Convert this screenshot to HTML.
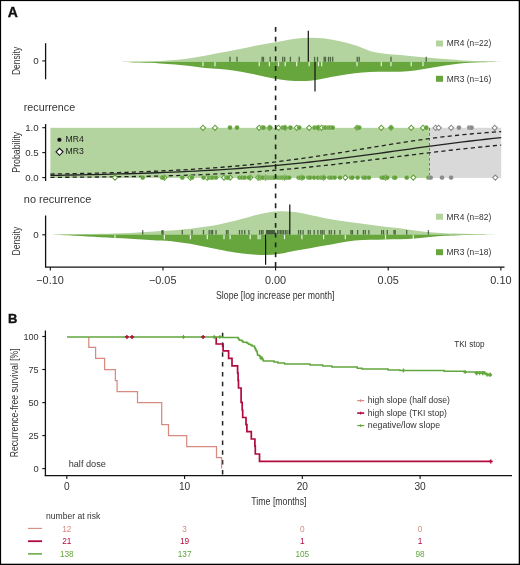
<!DOCTYPE html>
<html><head><meta charset="utf-8"><style>
html,body{margin:0;padding:0;background:#fff;}
.f{position:relative;width:520px;height:565px;overflow:hidden;background:#fff;}
svg{position:absolute;left:0;top:0;will-change:transform;}
text{font-family:"Liberation Sans", sans-serif;}
</style></head><body><div class="f">
<svg width="520" height="565" viewBox="0 0 520 565">
<rect x="0" y="0" width="520" height="565" fill="#fff"/>
<text x="7.8" y="17.2" font-size="14" fill="#111" text-anchor="start" font-weight="bold" stroke="#111" stroke-width="0.35">A</text>
<path d="M117.00,61.70 C120.83,61.65 132.83,61.53 140.00,61.40 C147.17,61.27 154.17,61.12 160.00,60.90 C165.83,60.68 170.00,60.55 175.00,60.10 C180.00,59.65 185.00,58.93 190.00,58.20 C195.00,57.47 200.00,56.62 205.00,55.70 C210.00,54.78 215.00,53.67 220.00,52.70 C225.00,51.73 230.00,50.87 235.00,49.90 C240.00,48.93 245.00,47.88 250.00,46.90 C255.00,45.92 260.00,44.90 265.00,44.00 C270.00,43.10 275.00,42.37 280.00,41.50 C285.00,40.63 290.00,39.43 295.00,38.80 C300.00,38.17 305.00,37.75 310.00,37.70 C315.00,37.65 320.00,37.90 325.00,38.50 C330.00,39.10 335.00,40.17 340.00,41.30 C345.00,42.43 350.00,43.70 355.00,45.30 C360.00,46.90 365.00,49.48 370.00,50.90 C375.00,52.32 380.00,53.13 385.00,53.80 C390.00,54.47 395.00,54.47 400.00,54.90 C405.00,55.33 410.00,55.93 415.00,56.40 C420.00,56.87 425.00,57.25 430.00,57.70 C435.00,58.15 440.00,58.68 445.00,59.10 C450.00,59.52 454.17,59.87 460.00,60.20 C465.83,60.53 473.00,60.85 480.00,61.10 C487.00,61.35 498.33,61.60 502.00,61.70 Z" fill="#b3d49e"/>
<path d="M117.00,61.70 C120.83,61.85 132.83,62.32 140.00,62.60 C147.17,62.88 154.17,63.10 160.00,63.40 C165.83,63.70 170.00,63.98 175.00,64.40 C180.00,64.82 185.00,65.32 190.00,65.90 C195.00,66.48 200.00,67.37 205.00,67.90 C210.00,68.43 215.00,68.63 220.00,69.10 C225.00,69.57 230.00,69.97 235.00,70.70 C240.00,71.43 245.00,72.50 250.00,73.50 C255.00,74.50 260.00,75.70 265.00,76.70 C270.00,77.70 275.00,78.78 280.00,79.50 C285.00,80.22 290.00,80.80 295.00,81.00 C300.00,81.20 305.00,81.17 310.00,80.70 C315.00,80.23 320.00,79.07 325.00,78.20 C330.00,77.33 335.00,76.33 340.00,75.50 C345.00,74.67 350.00,73.78 355.00,73.20 C360.00,72.62 365.00,72.25 370.00,72.00 C375.00,71.75 380.00,71.75 385.00,71.70 C390.00,71.65 395.00,71.92 400.00,71.70 C405.00,71.48 410.00,71.00 415.00,70.40 C420.00,69.80 425.00,68.92 430.00,68.10 C435.00,67.28 440.00,66.28 445.00,65.50 C450.00,64.72 454.17,63.93 460.00,63.40 C465.83,62.87 473.33,62.58 480.00,62.30 C486.67,62.02 496.67,61.80 500.00,61.70 Z" fill="#67a63d"/>
<line x1="230" y1="56.8" x2="230" y2="61.7" stroke="#1e3318" stroke-opacity="0.68" stroke-width="1.3"/>
<line x1="237" y1="56.8" x2="237" y2="61.7" stroke="#1e3318" stroke-opacity="0.68" stroke-width="1.3"/>
<line x1="262.1" y1="56.8" x2="262.1" y2="61.7" stroke="#1e3318" stroke-opacity="0.68" stroke-width="1.3"/>
<line x1="263.5" y1="56.8" x2="263.5" y2="61.7" stroke="#1e3318" stroke-opacity="0.68" stroke-width="1.3"/>
<line x1="270.2" y1="56.8" x2="270.2" y2="61.7" stroke="#1e3318" stroke-opacity="0.68" stroke-width="1.3"/>
<line x1="282.7" y1="56.8" x2="282.7" y2="61.7" stroke="#1e3318" stroke-opacity="0.68" stroke-width="1.3"/>
<line x1="284.6" y1="56.8" x2="284.6" y2="61.7" stroke="#1e3318" stroke-opacity="0.68" stroke-width="1.3"/>
<line x1="290.4" y1="56.8" x2="290.4" y2="61.7" stroke="#1e3318" stroke-opacity="0.68" stroke-width="1.3"/>
<line x1="299.2" y1="56.8" x2="299.2" y2="61.7" stroke="#1e3318" stroke-opacity="0.68" stroke-width="1.3"/>
<line x1="314.6" y1="56.8" x2="314.6" y2="61.7" stroke="#1e3318" stroke-opacity="0.68" stroke-width="1.3"/>
<line x1="317.5" y1="56.8" x2="317.5" y2="61.7" stroke="#1e3318" stroke-opacity="0.68" stroke-width="1.3"/>
<line x1="324.2" y1="56.8" x2="324.2" y2="61.7" stroke="#1e3318" stroke-opacity="0.68" stroke-width="1.3"/>
<line x1="325.5" y1="56.8" x2="325.5" y2="61.7" stroke="#1e3318" stroke-opacity="0.68" stroke-width="1.3"/>
<line x1="328.5" y1="56.8" x2="328.5" y2="61.7" stroke="#1e3318" stroke-opacity="0.68" stroke-width="1.3"/>
<line x1="330.4" y1="56.8" x2="330.4" y2="61.7" stroke="#1e3318" stroke-opacity="0.68" stroke-width="1.3"/>
<line x1="332.7" y1="56.8" x2="332.7" y2="61.7" stroke="#1e3318" stroke-opacity="0.68" stroke-width="1.3"/>
<line x1="357.3" y1="56.8" x2="357.3" y2="61.7" stroke="#1e3318" stroke-opacity="0.68" stroke-width="1.3"/>
<line x1="359.2" y1="56.8" x2="359.2" y2="61.7" stroke="#1e3318" stroke-opacity="0.68" stroke-width="1.3"/>
<line x1="391" y1="56.8" x2="391" y2="61.7" stroke="#1e3318" stroke-opacity="0.68" stroke-width="1.3"/>
<line x1="426.2" y1="56.8" x2="426.2" y2="61.7" stroke="#1e3318" stroke-opacity="0.68" stroke-width="1.3"/>
<line x1="203" y1="62.1" x2="203" y2="66.2" stroke="#fff" stroke-opacity="0.85" stroke-width="1.2"/>
<line x1="215" y1="62.1" x2="215" y2="66.2" stroke="#fff" stroke-opacity="0.85" stroke-width="1.2"/>
<line x1="259.2" y1="62.1" x2="259.2" y2="66.2" stroke="#fff" stroke-opacity="0.85" stroke-width="1.2"/>
<line x1="269.4" y1="62.1" x2="269.4" y2="66.2" stroke="#fff" stroke-opacity="0.85" stroke-width="1.2"/>
<line x1="278.5" y1="62.1" x2="278.5" y2="66.2" stroke="#fff" stroke-opacity="0.85" stroke-width="1.2"/>
<line x1="285.2" y1="62.1" x2="285.2" y2="66.2" stroke="#fff" stroke-opacity="0.85" stroke-width="1.2"/>
<line x1="296.7" y1="62.1" x2="296.7" y2="66.2" stroke="#fff" stroke-opacity="0.85" stroke-width="1.2"/>
<line x1="309.2" y1="62.1" x2="309.2" y2="66.2" stroke="#fff" stroke-opacity="0.85" stroke-width="1.2"/>
<line x1="318.5" y1="62.1" x2="318.5" y2="66.2" stroke="#fff" stroke-opacity="0.85" stroke-width="1.2"/>
<line x1="321.7" y1="62.1" x2="321.7" y2="66.2" stroke="#fff" stroke-opacity="0.85" stroke-width="1.2"/>
<line x1="357" y1="62.1" x2="357" y2="66.2" stroke="#fff" stroke-opacity="0.85" stroke-width="1.2"/>
<line x1="381.3" y1="62.1" x2="381.3" y2="66.2" stroke="#fff" stroke-opacity="0.85" stroke-width="1.2"/>
<line x1="391" y1="62.1" x2="391" y2="66.2" stroke="#fff" stroke-opacity="0.85" stroke-width="1.2"/>
<line x1="411.2" y1="62.1" x2="411.2" y2="66.2" stroke="#fff" stroke-opacity="0.85" stroke-width="1.2"/>
<line x1="423" y1="62.1" x2="423" y2="66.2" stroke="#fff" stroke-opacity="0.85" stroke-width="1.2"/>
<line x1="308.3" y1="30.8" x2="308.3" y2="61.7" stroke="#111" stroke-width="1.2"/>
<line x1="315" y1="61.7" x2="315" y2="91.6" stroke="#111" stroke-width="1.2"/>
<line x1="45.6" y1="43.2" x2="45.6" y2="79.3" stroke="#111" stroke-width="1.3"/>
<line x1="42.3" y1="60.9" x2="45.6" y2="60.9" stroke="#111" stroke-width="1.1"/>
<text x="38.7" y="64.3" font-size="9.8" fill="#333" text-anchor="end" >0</text>
<text transform="translate(19.6,75) rotate(-90)" font-size="11.4" fill="#333" text-anchor="start" textLength="28.1" lengthAdjust="spacingAndGlyphs" >Density</text>
<rect x="436" y="40.5" width="7" height="6" fill="#b3d49e"/>
<text x="446.8" y="46.4" font-size="8.8" fill="#333" text-anchor="start" textLength="44.4" lengthAdjust="spacingAndGlyphs" >MR4 (n=22)</text>
<rect x="436" y="75.8" width="7" height="6" fill="#67a63d"/>
<text x="446.8" y="81.6" font-size="8.8" fill="#333" text-anchor="start" textLength="44.4" lengthAdjust="spacingAndGlyphs" >MR3 (n=16)</text>
<text x="23.8" y="110.8" font-size="10.8" fill="#333" text-anchor="start" textLength="51.3" lengthAdjust="spacingAndGlyphs" >recurrence</text>
<rect x="50.4" y="127.8" width="379.1" height="50.10000000000001" fill="#b3d49e"/>
<rect x="429.5" y="127.8" width="71.69999999999999" height="50.10000000000001" fill="#d9d9d9"/>
<line x1="429.5" y1="127.8" x2="429.5" y2="177.9" stroke="#777" stroke-width="1" stroke-dasharray="3 2"/>
<path d="M50.40,175.40 L58.04,175.28 L65.68,175.15 L73.32,175.01 L80.96,174.86 L88.60,174.71 L96.24,174.54 L103.88,174.36 L111.53,174.17 L119.17,173.97 L126.81,173.76 L134.45,173.53 L142.09,173.28 L149.73,173.02 L157.37,172.75 L165.01,172.45 L172.65,172.14 L180.29,171.80 L187.93,171.45 L195.57,171.07 L203.21,170.67 L210.85,170.24 L218.49,169.79 L226.14,169.31 L233.78,168.81 L241.42,168.27 L249.06,167.70 L256.70,167.11 L264.34,166.48 L271.98,165.82 L279.62,165.12 L287.26,164.39 L294.90,163.63 L302.54,162.84 L310.18,162.01 L317.82,161.15 L325.46,160.26 L333.11,159.34 L340.75,158.39 L348.39,157.42 L356.03,156.42 L363.67,155.40 L371.31,154.37 L378.95,153.32 L386.59,152.26 L394.23,151.19 L401.87,150.12 L409.51,149.05 L417.15,147.98 L424.79,146.93 L432.43,145.88 L440.07,144.86 L447.72,143.86 L455.36,142.88 L463.00,141.93 L470.64,141.00 L478.28,140.11 L485.92,139.26 L493.56,138.44 L501.20,137.66" fill="none" stroke="#222" stroke-width="1.3" />
<path d="M50.40,174.08 L58.04,173.95 L65.68,173.82 L73.32,173.67 L80.96,173.52 L88.60,173.35 L96.24,173.17 L103.88,172.97 L111.53,172.76 L119.17,172.54 L126.81,172.29 L134.45,172.03 L142.09,171.75 L149.73,171.45 L157.37,171.12 L165.01,170.77 L172.65,170.40 L180.29,169.99 L187.93,169.56 L195.57,169.10 L203.21,168.60 L210.85,168.07 L218.49,167.50 L226.14,166.89 L233.78,166.24 L241.42,165.55 L249.06,164.82 L256.70,164.04 L264.34,163.21 L271.98,162.34 L279.62,161.42 L287.26,160.45 L294.90,159.44 L302.54,158.38 L310.18,157.29 L317.82,156.15 L325.46,154.98 L333.11,153.77 L340.75,152.54 L348.39,151.29 L356.03,150.03 L363.67,148.76 L371.31,147.49 L378.95,146.23 L386.59,144.98 L394.23,143.76 L401.87,142.57 L409.51,141.41 L417.15,140.30 L424.79,139.23 L432.43,138.21 L440.07,137.25 L447.72,136.34 L455.36,135.50 L463.00,134.71 L470.64,133.98 L478.28,133.31 L485.92,132.69 L493.56,132.13 L501.20,131.62" fill="none" stroke="#222" stroke-width="1.3" stroke-dasharray="4.2 3.2"/>
<path d="M50.40,177.34 L58.04,177.30 L65.68,177.26 L73.32,177.21 L80.96,177.15 L88.60,177.09 L96.24,177.02 L103.88,176.94 L111.53,176.85 L119.17,176.75 L126.81,176.64 L134.45,176.52 L142.09,176.38 L149.73,176.23 L157.37,176.06 L165.01,175.87 L172.65,175.66 L180.29,175.43 L187.93,175.18 L195.57,174.90 L203.21,174.60 L210.85,174.27 L218.49,173.92 L226.14,173.53 L233.78,173.11 L241.42,172.66 L249.06,172.17 L256.70,171.65 L264.34,171.09 L271.98,170.50 L279.62,169.87 L287.26,169.21 L294.90,168.51 L302.54,167.78 L310.18,167.01 L317.82,166.21 L325.46,165.39 L333.11,164.53 L340.75,163.65 L348.39,162.75 L356.03,161.83 L363.67,160.90 L371.31,159.95 L378.95,158.99 L386.59,158.03 L394.23,157.07 L401.87,156.11 L409.51,155.16 L417.15,154.21 L424.79,153.28 L432.43,152.35 L440.07,151.45 L447.72,150.57 L455.36,149.70 L463.00,148.86 L470.64,148.04 L478.28,147.25 L485.92,146.49 L493.56,145.75 L501.20,145.04" fill="none" stroke="#222" stroke-width="1.3" stroke-dasharray="4.2 3.2"/>
<path d="M200.4,127.8 L203,125.2 L205.6,127.8 L203,130.4 Z" fill="#fff" stroke="#62a23a" stroke-width="1.1"/>
<path d="M212.4,127.8 L215,125.2 L217.6,127.8 L215,130.4 Z" fill="#fff" stroke="#62a23a" stroke-width="1.1"/>
<path d="M256.59999999999997,127.8 L259.2,125.2 L261.8,127.8 L259.2,130.4 Z" fill="#fff" stroke="#62a23a" stroke-width="1.1"/>
<path d="M266.79999999999995,127.8 L269.4,125.2 L272.0,127.8 L269.4,130.4 Z" fill="#fff" stroke="#62a23a" stroke-width="1.1"/>
<path d="M275.9,127.8 L278.5,125.2 L281.1,127.8 L278.5,130.4 Z" fill="#fff" stroke="#62a23a" stroke-width="1.1"/>
<path d="M282.59999999999997,127.8 L285.2,125.2 L287.8,127.8 L285.2,130.4 Z" fill="#fff" stroke="#62a23a" stroke-width="1.1"/>
<path d="M294.09999999999997,127.8 L296.7,125.2 L299.3,127.8 L296.7,130.4 Z" fill="#fff" stroke="#62a23a" stroke-width="1.1"/>
<path d="M306.59999999999997,127.8 L309.2,125.2 L311.8,127.8 L309.2,130.4 Z" fill="#fff" stroke="#62a23a" stroke-width="1.1"/>
<path d="M315.9,127.8 L318.5,125.2 L321.1,127.8 L318.5,130.4 Z" fill="#fff" stroke="#62a23a" stroke-width="1.1"/>
<path d="M319.09999999999997,127.8 L321.7,125.2 L324.3,127.8 L321.7,130.4 Z" fill="#fff" stroke="#62a23a" stroke-width="1.1"/>
<path d="M354.4,127.8 L357,125.2 L359.6,127.8 L357,130.4 Z" fill="#fff" stroke="#62a23a" stroke-width="1.1"/>
<path d="M378.7,127.8 L381.3,125.2 L383.90000000000003,127.8 L381.3,130.4 Z" fill="#fff" stroke="#62a23a" stroke-width="1.1"/>
<path d="M388.4,127.8 L391,125.2 L393.6,127.8 L391,130.4 Z" fill="#fff" stroke="#62a23a" stroke-width="1.1"/>
<path d="M408.59999999999997,127.8 L411.2,125.2 L413.8,127.8 L411.2,130.4 Z" fill="#fff" stroke="#62a23a" stroke-width="1.1"/>
<path d="M420.4,127.8 L423,125.2 L425.6,127.8 L423,130.4 Z" fill="#fff" stroke="#62a23a" stroke-width="1.1"/>
<circle cx="230" cy="127.8" r="2.45" fill="#62a23a" stroke="#fff" stroke-opacity="0.35" stroke-width="0.6"/>
<circle cx="237" cy="127.8" r="2.45" fill="#62a23a" stroke="#fff" stroke-opacity="0.35" stroke-width="0.6"/>
<circle cx="262.1" cy="127.8" r="2.45" fill="#62a23a" stroke="#fff" stroke-opacity="0.35" stroke-width="0.6"/>
<circle cx="263.5" cy="127.8" r="2.45" fill="#62a23a" stroke="#fff" stroke-opacity="0.35" stroke-width="0.6"/>
<circle cx="270.2" cy="127.8" r="2.45" fill="#62a23a" stroke="#fff" stroke-opacity="0.35" stroke-width="0.6"/>
<circle cx="282.7" cy="127.8" r="2.45" fill="#62a23a" stroke="#fff" stroke-opacity="0.35" stroke-width="0.6"/>
<circle cx="284.6" cy="127.8" r="2.45" fill="#62a23a" stroke="#fff" stroke-opacity="0.35" stroke-width="0.6"/>
<circle cx="290.4" cy="127.8" r="2.45" fill="#62a23a" stroke="#fff" stroke-opacity="0.35" stroke-width="0.6"/>
<circle cx="299.2" cy="127.8" r="2.45" fill="#62a23a" stroke="#fff" stroke-opacity="0.35" stroke-width="0.6"/>
<circle cx="314.6" cy="127.8" r="2.45" fill="#62a23a" stroke="#fff" stroke-opacity="0.35" stroke-width="0.6"/>
<circle cx="317.5" cy="127.8" r="2.45" fill="#62a23a" stroke="#fff" stroke-opacity="0.35" stroke-width="0.6"/>
<circle cx="324.2" cy="127.8" r="2.45" fill="#62a23a" stroke="#fff" stroke-opacity="0.35" stroke-width="0.6"/>
<circle cx="325.5" cy="127.8" r="2.45" fill="#62a23a" stroke="#fff" stroke-opacity="0.35" stroke-width="0.6"/>
<circle cx="328.5" cy="127.8" r="2.45" fill="#62a23a" stroke="#fff" stroke-opacity="0.35" stroke-width="0.6"/>
<circle cx="330.4" cy="127.8" r="2.45" fill="#62a23a" stroke="#fff" stroke-opacity="0.35" stroke-width="0.6"/>
<circle cx="332.7" cy="127.8" r="2.45" fill="#62a23a" stroke="#fff" stroke-opacity="0.35" stroke-width="0.6"/>
<circle cx="357.3" cy="127.8" r="2.45" fill="#62a23a" stroke="#fff" stroke-opacity="0.35" stroke-width="0.6"/>
<circle cx="359.2" cy="127.8" r="2.45" fill="#62a23a" stroke="#fff" stroke-opacity="0.35" stroke-width="0.6"/>
<circle cx="391" cy="127.8" r="2.45" fill="#62a23a" stroke="#fff" stroke-opacity="0.35" stroke-width="0.6"/>
<circle cx="426.2" cy="127.8" r="2.45" fill="#62a23a" stroke="#fff" stroke-opacity="0.35" stroke-width="0.6"/>
<path d="M433.0,127.8 L435.6,125.2 L438.20000000000005,127.8 L435.6,130.4 Z" fill="#fff" stroke="#8a8a8a" stroke-width="1.1"/>
<path d="M436.09999999999997,127.8 L438.7,125.2 L441.3,127.8 L438.7,130.4 Z" fill="#fff" stroke="#8a8a8a" stroke-width="1.1"/>
<path d="M448.5,127.8 L451.1,125.2 L453.70000000000005,127.8 L451.1,130.4 Z" fill="#fff" stroke="#8a8a8a" stroke-width="1.1"/>
<path d="M492.09999999999997,127.8 L494.7,125.2 L497.3,127.8 L494.7,130.4 Z" fill="#fff" stroke="#8a8a8a" stroke-width="1.1"/>
<circle cx="458.9" cy="127.8" r="2.45" fill="#8a8a8a" stroke="#fff" stroke-opacity="0.35" stroke-width="0.6"/>
<circle cx="469.3" cy="127.8" r="2.45" fill="#8a8a8a" stroke="#fff" stroke-opacity="0.35" stroke-width="0.6"/>
<circle cx="471.6" cy="127.8" r="2.45" fill="#8a8a8a" stroke="#fff" stroke-opacity="0.35" stroke-width="0.6"/>
<path d="M112.4,177.6 L115,175.0 L117.6,177.6 L115,180.2 Z" fill="#fff" stroke="#62a23a" stroke-width="1.1"/>
<path d="M161.8,177.6 L164.4,175.0 L167.0,177.6 L164.4,180.2 Z" fill="#fff" stroke="#62a23a" stroke-width="1.1"/>
<path d="M187.8,177.6 L190.4,175.0 L193.0,177.6 L190.4,180.2 Z" fill="#fff" stroke="#62a23a" stroke-width="1.1"/>
<path d="M204.70000000000002,177.6 L207.3,175.0 L209.9,177.6 L207.3,180.2 Z" fill="#fff" stroke="#62a23a" stroke-width="1.1"/>
<path d="M221.4,177.6 L224,175.0 L226.6,177.6 L224,180.2 Z" fill="#fff" stroke="#62a23a" stroke-width="1.1"/>
<path d="M227.5,177.6 L230.1,175.0 L232.7,177.6 L230.1,180.2 Z" fill="#fff" stroke="#62a23a" stroke-width="1.1"/>
<path d="M247.6,177.6 L250.2,175.0 L252.79999999999998,177.6 L250.2,180.2 Z" fill="#fff" stroke="#62a23a" stroke-width="1.1"/>
<path d="M255.50000000000003,177.6 L258.1,175.0 L260.70000000000005,177.6 L258.1,180.2 Z" fill="#fff" stroke="#62a23a" stroke-width="1.1"/>
<path d="M257.5,177.6 L260.1,175.0 L262.70000000000005,177.6 L260.1,180.2 Z" fill="#fff" stroke="#62a23a" stroke-width="1.1"/>
<path d="M263.0,177.6 L265.6,175.0 L268.20000000000005,177.6 L265.6,180.2 Z" fill="#fff" stroke="#62a23a" stroke-width="1.1"/>
<path d="M281.9,177.6 L284.5,175.0 L287.1,177.6 L284.5,180.2 Z" fill="#fff" stroke="#62a23a" stroke-width="1.1"/>
<path d="M299.29999999999995,177.6 L301.9,175.0 L304.5,177.6 L301.9,180.2 Z" fill="#fff" stroke="#62a23a" stroke-width="1.1"/>
<path d="M321.0,177.6 L323.6,175.0 L326.20000000000005,177.6 L323.6,180.2 Z" fill="#fff" stroke="#62a23a" stroke-width="1.1"/>
<path d="M342.7,177.6 L345.3,175.0 L347.90000000000003,177.6 L345.3,180.2 Z" fill="#fff" stroke="#62a23a" stroke-width="1.1"/>
<path d="M382.9,177.6 L385.5,175.0 L388.1,177.6 L385.5,180.2 Z" fill="#fff" stroke="#62a23a" stroke-width="1.1"/>
<path d="M410.7,177.6 L413.3,175.0 L415.90000000000003,177.6 L413.3,180.2 Z" fill="#fff" stroke="#62a23a" stroke-width="1.1"/>
<circle cx="142.7" cy="177.6" r="2.45" fill="#62a23a" stroke="#fff" stroke-opacity="0.35" stroke-width="0.6"/>
<circle cx="162" cy="177.6" r="2.45" fill="#62a23a" stroke="#fff" stroke-opacity="0.35" stroke-width="0.6"/>
<circle cx="163" cy="177.6" r="2.45" fill="#62a23a" stroke="#fff" stroke-opacity="0.35" stroke-width="0.6"/>
<circle cx="182.3" cy="177.6" r="2.45" fill="#62a23a" stroke="#fff" stroke-opacity="0.35" stroke-width="0.6"/>
<circle cx="192" cy="177.6" r="2.45" fill="#62a23a" stroke="#fff" stroke-opacity="0.35" stroke-width="0.6"/>
<circle cx="203.5" cy="177.6" r="2.45" fill="#62a23a" stroke="#fff" stroke-opacity="0.35" stroke-width="0.6"/>
<circle cx="209.2" cy="177.6" r="2.45" fill="#62a23a" stroke="#fff" stroke-opacity="0.35" stroke-width="0.6"/>
<circle cx="211.2" cy="177.6" r="2.45" fill="#62a23a" stroke="#fff" stroke-opacity="0.35" stroke-width="0.6"/>
<circle cx="212.6" cy="177.6" r="2.45" fill="#62a23a" stroke="#fff" stroke-opacity="0.35" stroke-width="0.6"/>
<circle cx="216" cy="177.6" r="2.45" fill="#62a23a" stroke="#fff" stroke-opacity="0.35" stroke-width="0.6"/>
<circle cx="226.5" cy="177.6" r="2.45" fill="#62a23a" stroke="#fff" stroke-opacity="0.35" stroke-width="0.6"/>
<circle cx="228" cy="177.6" r="2.45" fill="#62a23a" stroke="#fff" stroke-opacity="0.35" stroke-width="0.6"/>
<circle cx="239.5" cy="177.6" r="2.45" fill="#62a23a" stroke="#fff" stroke-opacity="0.35" stroke-width="0.6"/>
<circle cx="242" cy="177.6" r="2.45" fill="#62a23a" stroke="#fff" stroke-opacity="0.35" stroke-width="0.6"/>
<circle cx="244.7" cy="177.6" r="2.45" fill="#62a23a" stroke="#fff" stroke-opacity="0.35" stroke-width="0.6"/>
<circle cx="248.9" cy="177.6" r="2.45" fill="#62a23a" stroke="#fff" stroke-opacity="0.35" stroke-width="0.6"/>
<circle cx="259.6" cy="177.6" r="2.45" fill="#62a23a" stroke="#fff" stroke-opacity="0.35" stroke-width="0.6"/>
<circle cx="261.5" cy="177.6" r="2.45" fill="#62a23a" stroke="#fff" stroke-opacity="0.35" stroke-width="0.6"/>
<circle cx="263" cy="177.6" r="2.45" fill="#62a23a" stroke="#fff" stroke-opacity="0.35" stroke-width="0.6"/>
<circle cx="266.5" cy="177.6" r="2.45" fill="#62a23a" stroke="#fff" stroke-opacity="0.35" stroke-width="0.6"/>
<circle cx="267.5" cy="177.6" r="2.45" fill="#62a23a" stroke="#fff" stroke-opacity="0.35" stroke-width="0.6"/>
<circle cx="268.5" cy="177.6" r="2.45" fill="#62a23a" stroke="#fff" stroke-opacity="0.35" stroke-width="0.6"/>
<circle cx="269.5" cy="177.6" r="2.45" fill="#62a23a" stroke="#fff" stroke-opacity="0.35" stroke-width="0.6"/>
<circle cx="270.5" cy="177.6" r="2.45" fill="#62a23a" stroke="#fff" stroke-opacity="0.35" stroke-width="0.6"/>
<circle cx="271.5" cy="177.6" r="2.45" fill="#62a23a" stroke="#fff" stroke-opacity="0.35" stroke-width="0.6"/>
<circle cx="272.5" cy="177.6" r="2.45" fill="#62a23a" stroke="#fff" stroke-opacity="0.35" stroke-width="0.6"/>
<circle cx="273.5" cy="177.6" r="2.45" fill="#62a23a" stroke="#fff" stroke-opacity="0.35" stroke-width="0.6"/>
<circle cx="274.6" cy="177.6" r="2.45" fill="#62a23a" stroke="#fff" stroke-opacity="0.35" stroke-width="0.6"/>
<circle cx="277.5" cy="177.6" r="2.45" fill="#62a23a" stroke="#fff" stroke-opacity="0.35" stroke-width="0.6"/>
<circle cx="279" cy="177.6" r="2.45" fill="#62a23a" stroke="#fff" stroke-opacity="0.35" stroke-width="0.6"/>
<circle cx="280.6" cy="177.6" r="2.45" fill="#62a23a" stroke="#fff" stroke-opacity="0.35" stroke-width="0.6"/>
<circle cx="282" cy="177.6" r="2.45" fill="#62a23a" stroke="#fff" stroke-opacity="0.35" stroke-width="0.6"/>
<circle cx="283.5" cy="177.6" r="2.45" fill="#62a23a" stroke="#fff" stroke-opacity="0.35" stroke-width="0.6"/>
<circle cx="285.4" cy="177.6" r="2.45" fill="#62a23a" stroke="#fff" stroke-opacity="0.35" stroke-width="0.6"/>
<circle cx="287" cy="177.6" r="2.45" fill="#62a23a" stroke="#fff" stroke-opacity="0.35" stroke-width="0.6"/>
<circle cx="289.2" cy="177.6" r="2.45" fill="#62a23a" stroke="#fff" stroke-opacity="0.35" stroke-width="0.6"/>
<circle cx="298.6" cy="177.6" r="2.45" fill="#62a23a" stroke="#fff" stroke-opacity="0.35" stroke-width="0.6"/>
<circle cx="300.6" cy="177.6" r="2.45" fill="#62a23a" stroke="#fff" stroke-opacity="0.35" stroke-width="0.6"/>
<circle cx="303.1" cy="177.6" r="2.45" fill="#62a23a" stroke="#fff" stroke-opacity="0.35" stroke-width="0.6"/>
<circle cx="308.3" cy="177.6" r="2.45" fill="#62a23a" stroke="#fff" stroke-opacity="0.35" stroke-width="0.6"/>
<circle cx="310.2" cy="177.6" r="2.45" fill="#62a23a" stroke="#fff" stroke-opacity="0.35" stroke-width="0.6"/>
<circle cx="314.2" cy="177.6" r="2.45" fill="#62a23a" stroke="#fff" stroke-opacity="0.35" stroke-width="0.6"/>
<circle cx="317.9" cy="177.6" r="2.45" fill="#62a23a" stroke="#fff" stroke-opacity="0.35" stroke-width="0.6"/>
<circle cx="320.8" cy="177.6" r="2.45" fill="#62a23a" stroke="#fff" stroke-opacity="0.35" stroke-width="0.6"/>
<circle cx="322.3" cy="177.6" r="2.45" fill="#62a23a" stroke="#fff" stroke-opacity="0.35" stroke-width="0.6"/>
<circle cx="324.1" cy="177.6" r="2.45" fill="#62a23a" stroke="#fff" stroke-opacity="0.35" stroke-width="0.6"/>
<circle cx="329.3" cy="177.6" r="2.45" fill="#62a23a" stroke="#fff" stroke-opacity="0.35" stroke-width="0.6"/>
<circle cx="331.3" cy="177.6" r="2.45" fill="#62a23a" stroke="#fff" stroke-opacity="0.35" stroke-width="0.6"/>
<circle cx="334.6" cy="177.6" r="2.45" fill="#62a23a" stroke="#fff" stroke-opacity="0.35" stroke-width="0.6"/>
<circle cx="340" cy="177.6" r="2.45" fill="#62a23a" stroke="#fff" stroke-opacity="0.35" stroke-width="0.6"/>
<circle cx="351" cy="177.6" r="2.45" fill="#62a23a" stroke="#fff" stroke-opacity="0.35" stroke-width="0.6"/>
<circle cx="352.4" cy="177.6" r="2.45" fill="#62a23a" stroke="#fff" stroke-opacity="0.35" stroke-width="0.6"/>
<circle cx="357.6" cy="177.6" r="2.45" fill="#62a23a" stroke="#fff" stroke-opacity="0.35" stroke-width="0.6"/>
<circle cx="363.4" cy="177.6" r="2.45" fill="#62a23a" stroke="#fff" stroke-opacity="0.35" stroke-width="0.6"/>
<circle cx="365.3" cy="177.6" r="2.45" fill="#62a23a" stroke="#fff" stroke-opacity="0.35" stroke-width="0.6"/>
<circle cx="368.9" cy="177.6" r="2.45" fill="#62a23a" stroke="#fff" stroke-opacity="0.35" stroke-width="0.6"/>
<circle cx="381.7" cy="177.6" r="2.45" fill="#62a23a" stroke="#fff" stroke-opacity="0.35" stroke-width="0.6"/>
<circle cx="383.5" cy="177.6" r="2.45" fill="#62a23a" stroke="#fff" stroke-opacity="0.35" stroke-width="0.6"/>
<circle cx="387.3" cy="177.6" r="2.45" fill="#62a23a" stroke="#fff" stroke-opacity="0.35" stroke-width="0.6"/>
<circle cx="394" cy="177.6" r="2.45" fill="#62a23a" stroke="#fff" stroke-opacity="0.35" stroke-width="0.6"/>
<circle cx="395.2" cy="177.6" r="2.45" fill="#62a23a" stroke="#fff" stroke-opacity="0.35" stroke-width="0.6"/>
<circle cx="406.7" cy="177.6" r="2.45" fill="#62a23a" stroke="#fff" stroke-opacity="0.35" stroke-width="0.6"/>
<circle cx="428.4" cy="177.6" r="2.45" fill="#62a23a" stroke="#fff" stroke-opacity="0.35" stroke-width="0.6"/>
<path d="M492.7,177.6 L495.3,175.0 L497.90000000000003,177.6 L495.3,180.2 Z" fill="#fff" stroke="#8a8a8a" stroke-width="1.1"/>
<circle cx="430.7" cy="177.6" r="2.45" fill="#8a8a8a" stroke="#fff" stroke-opacity="0.35" stroke-width="0.6"/>
<circle cx="442" cy="177.6" r="2.45" fill="#8a8a8a" stroke="#fff" stroke-opacity="0.35" stroke-width="0.6"/>
<circle cx="451.1" cy="177.6" r="2.45" fill="#8a8a8a" stroke="#fff" stroke-opacity="0.35" stroke-width="0.6"/>
<circle cx="59.4" cy="139.8" r="2.3" fill="#111" stroke="#fff" stroke-opacity="0.4" stroke-width="0.7"/>
<text x="65.5" y="142.3" font-size="9.0" fill="#222" text-anchor="start" textLength="18.3" lengthAdjust="spacingAndGlyphs" >MR4</text>
<path d="M56.0,151.8 L59.5,148.3 L63.0,151.8 L59.5,155.3 Z" fill="#fff" stroke="#111" stroke-width="1.1"/>
<text x="65.5" y="154.3" font-size="9.0" fill="#222" text-anchor="start" textLength="18.3" lengthAdjust="spacingAndGlyphs" >MR3</text>
<line x1="45.6" y1="124.1" x2="45.6" y2="181" stroke="#111" stroke-width="1.3"/>
<line x1="42.3" y1="127.7" x2="45.6" y2="127.7" stroke="#111" stroke-width="1.1"/>
<text x="38.6" y="131.2" font-size="9.7" fill="#333" text-anchor="end" >1.0</text>
<line x1="42.3" y1="152.6" x2="45.6" y2="152.6" stroke="#111" stroke-width="1.1"/>
<text x="38.6" y="156.1" font-size="9.7" fill="#333" text-anchor="end" >0.5</text>
<line x1="42.3" y1="177.6" x2="45.6" y2="177.6" stroke="#111" stroke-width="1.1"/>
<text x="38.6" y="181.1" font-size="9.7" fill="#333" text-anchor="end" >0.0</text>
<text transform="translate(19.6,172.7) rotate(-90)" font-size="11.4" fill="#333" text-anchor="start" textLength="40.9" lengthAdjust="spacingAndGlyphs" >Probability</text>
<text x="23.8" y="202.6" font-size="10.8" fill="#333" text-anchor="start" textLength="67.5" lengthAdjust="spacingAndGlyphs" >no recurrence</text>
<path d="M50.00,234.50 C54.17,234.45 66.67,234.32 75.00,234.20 C83.33,234.08 90.83,234.00 100.00,233.80 C109.17,233.60 120.00,233.47 130.00,233.00 C140.00,232.53 152.50,231.47 160.00,231.00 C167.50,230.53 170.00,230.57 175.00,230.20 C180.00,229.83 185.00,229.37 190.00,228.80 C195.00,228.23 200.00,227.57 205.00,226.80 C210.00,226.03 215.00,225.20 220.00,224.20 C225.00,223.20 230.00,222.05 235.00,220.80 C240.00,219.55 245.00,218.02 250.00,216.70 C255.00,215.38 260.00,213.82 265.00,212.90 C270.00,211.98 275.00,211.33 280.00,211.20 C285.00,211.07 290.00,211.47 295.00,212.10 C300.00,212.73 305.00,213.98 310.00,215.00 C315.00,216.02 320.00,217.23 325.00,218.20 C330.00,219.17 335.00,220.03 340.00,220.80 C345.00,221.57 350.00,222.13 355.00,222.80 C360.00,223.47 365.00,224.13 370.00,224.80 C375.00,225.47 380.00,226.22 385.00,226.80 C390.00,227.38 395.00,227.67 400.00,228.30 C405.00,228.93 410.00,229.93 415.00,230.60 C420.00,231.27 425.00,231.85 430.00,232.30 C435.00,232.75 440.00,233.07 445.00,233.30 C450.00,233.53 454.50,233.57 460.00,233.70 C465.50,233.82 471.83,233.92 478.00,234.05 C484.17,234.18 493.83,234.43 497.00,234.50 Z" fill="#b3d49e"/>
<path d="M50.00,234.50 C54.17,234.72 66.67,235.35 75.00,235.80 C83.33,236.25 90.83,236.72 100.00,237.20 C109.17,237.68 120.00,238.13 130.00,238.70 C140.00,239.27 152.50,240.08 160.00,240.60 C167.50,241.12 170.00,241.27 175.00,241.80 C180.00,242.33 185.00,242.98 190.00,243.80 C195.00,244.62 200.00,245.70 205.00,246.70 C210.00,247.70 215.00,248.83 220.00,249.80 C225.00,250.77 230.00,251.77 235.00,252.50 C240.00,253.23 245.00,253.77 250.00,254.20 C255.00,254.63 260.00,255.17 265.00,255.10 C270.00,255.03 275.00,254.53 280.00,253.80 C285.00,253.07 290.00,251.63 295.00,250.70 C300.00,249.77 305.00,249.05 310.00,248.20 C315.00,247.35 320.00,246.50 325.00,245.60 C330.00,244.70 335.00,243.63 340.00,242.80 C345.00,241.97 350.00,241.10 355.00,240.60 C360.00,240.10 365.00,240.00 370.00,239.80 C375.00,239.60 380.00,239.50 385.00,239.40 C390.00,239.30 395.00,239.33 400.00,239.20 C405.00,239.07 410.00,238.95 415.00,238.60 C420.00,238.25 425.00,237.57 430.00,237.10 C435.00,236.63 440.00,236.12 445.00,235.80 C450.00,235.48 452.50,235.42 460.00,235.20 C467.50,234.98 485.00,234.62 490.00,234.50 Z" fill="#67a63d"/>
<line x1="142.7" y1="230" x2="142.7" y2="234.5" stroke="#1e3318" stroke-opacity="0.68" stroke-width="1.3"/>
<line x1="162" y1="230" x2="162" y2="234.5" stroke="#1e3318" stroke-opacity="0.68" stroke-width="1.3"/>
<line x1="163" y1="230" x2="163" y2="234.5" stroke="#1e3318" stroke-opacity="0.68" stroke-width="1.3"/>
<line x1="182.3" y1="230" x2="182.3" y2="234.5" stroke="#1e3318" stroke-opacity="0.68" stroke-width="1.3"/>
<line x1="192" y1="230" x2="192" y2="234.5" stroke="#1e3318" stroke-opacity="0.68" stroke-width="1.3"/>
<line x1="203.5" y1="230" x2="203.5" y2="234.5" stroke="#1e3318" stroke-opacity="0.68" stroke-width="1.3"/>
<line x1="209.2" y1="230" x2="209.2" y2="234.5" stroke="#1e3318" stroke-opacity="0.68" stroke-width="1.3"/>
<line x1="211.2" y1="230" x2="211.2" y2="234.5" stroke="#1e3318" stroke-opacity="0.68" stroke-width="1.3"/>
<line x1="212.6" y1="230" x2="212.6" y2="234.5" stroke="#1e3318" stroke-opacity="0.68" stroke-width="1.3"/>
<line x1="216" y1="230" x2="216" y2="234.5" stroke="#1e3318" stroke-opacity="0.68" stroke-width="1.3"/>
<line x1="226.5" y1="230" x2="226.5" y2="234.5" stroke="#1e3318" stroke-opacity="0.68" stroke-width="1.3"/>
<line x1="228" y1="230" x2="228" y2="234.5" stroke="#1e3318" stroke-opacity="0.68" stroke-width="1.3"/>
<line x1="239.5" y1="230" x2="239.5" y2="234.5" stroke="#1e3318" stroke-opacity="0.68" stroke-width="1.3"/>
<line x1="242" y1="230" x2="242" y2="234.5" stroke="#1e3318" stroke-opacity="0.68" stroke-width="1.3"/>
<line x1="244.7" y1="230" x2="244.7" y2="234.5" stroke="#1e3318" stroke-opacity="0.68" stroke-width="1.3"/>
<line x1="248.9" y1="230" x2="248.9" y2="234.5" stroke="#1e3318" stroke-opacity="0.68" stroke-width="1.3"/>
<line x1="259.6" y1="230" x2="259.6" y2="234.5" stroke="#1e3318" stroke-opacity="0.68" stroke-width="1.3"/>
<line x1="261.5" y1="230" x2="261.5" y2="234.5" stroke="#1e3318" stroke-opacity="0.68" stroke-width="1.3"/>
<line x1="263" y1="230" x2="263" y2="234.5" stroke="#1e3318" stroke-opacity="0.68" stroke-width="1.3"/>
<line x1="266.5" y1="230" x2="266.5" y2="234.5" stroke="#1e3318" stroke-opacity="0.68" stroke-width="1.3"/>
<line x1="267.5" y1="230" x2="267.5" y2="234.5" stroke="#1e3318" stroke-opacity="0.68" stroke-width="1.3"/>
<line x1="268.5" y1="230" x2="268.5" y2="234.5" stroke="#1e3318" stroke-opacity="0.68" stroke-width="1.3"/>
<line x1="269.5" y1="230" x2="269.5" y2="234.5" stroke="#1e3318" stroke-opacity="0.68" stroke-width="1.3"/>
<line x1="270.5" y1="230" x2="270.5" y2="234.5" stroke="#1e3318" stroke-opacity="0.68" stroke-width="1.3"/>
<line x1="271.5" y1="230" x2="271.5" y2="234.5" stroke="#1e3318" stroke-opacity="0.68" stroke-width="1.3"/>
<line x1="272.5" y1="230" x2="272.5" y2="234.5" stroke="#1e3318" stroke-opacity="0.68" stroke-width="1.3"/>
<line x1="273.5" y1="230" x2="273.5" y2="234.5" stroke="#1e3318" stroke-opacity="0.68" stroke-width="1.3"/>
<line x1="274.6" y1="230" x2="274.6" y2="234.5" stroke="#1e3318" stroke-opacity="0.68" stroke-width="1.3"/>
<line x1="277.5" y1="230" x2="277.5" y2="234.5" stroke="#1e3318" stroke-opacity="0.68" stroke-width="1.3"/>
<line x1="279" y1="230" x2="279" y2="234.5" stroke="#1e3318" stroke-opacity="0.68" stroke-width="1.3"/>
<line x1="280.6" y1="230" x2="280.6" y2="234.5" stroke="#1e3318" stroke-opacity="0.68" stroke-width="1.3"/>
<line x1="282" y1="230" x2="282" y2="234.5" stroke="#1e3318" stroke-opacity="0.68" stroke-width="1.3"/>
<line x1="283.5" y1="230" x2="283.5" y2="234.5" stroke="#1e3318" stroke-opacity="0.68" stroke-width="1.3"/>
<line x1="285.4" y1="230" x2="285.4" y2="234.5" stroke="#1e3318" stroke-opacity="0.68" stroke-width="1.3"/>
<line x1="287" y1="230" x2="287" y2="234.5" stroke="#1e3318" stroke-opacity="0.68" stroke-width="1.3"/>
<line x1="289.2" y1="230" x2="289.2" y2="234.5" stroke="#1e3318" stroke-opacity="0.68" stroke-width="1.3"/>
<line x1="298.6" y1="230" x2="298.6" y2="234.5" stroke="#1e3318" stroke-opacity="0.68" stroke-width="1.3"/>
<line x1="300.6" y1="230" x2="300.6" y2="234.5" stroke="#1e3318" stroke-opacity="0.68" stroke-width="1.3"/>
<line x1="303.1" y1="230" x2="303.1" y2="234.5" stroke="#1e3318" stroke-opacity="0.68" stroke-width="1.3"/>
<line x1="308.3" y1="230" x2="308.3" y2="234.5" stroke="#1e3318" stroke-opacity="0.68" stroke-width="1.3"/>
<line x1="310.2" y1="230" x2="310.2" y2="234.5" stroke="#1e3318" stroke-opacity="0.68" stroke-width="1.3"/>
<line x1="314.2" y1="230" x2="314.2" y2="234.5" stroke="#1e3318" stroke-opacity="0.68" stroke-width="1.3"/>
<line x1="317.9" y1="230" x2="317.9" y2="234.5" stroke="#1e3318" stroke-opacity="0.68" stroke-width="1.3"/>
<line x1="320.8" y1="230" x2="320.8" y2="234.5" stroke="#1e3318" stroke-opacity="0.68" stroke-width="1.3"/>
<line x1="322.3" y1="230" x2="322.3" y2="234.5" stroke="#1e3318" stroke-opacity="0.68" stroke-width="1.3"/>
<line x1="324.1" y1="230" x2="324.1" y2="234.5" stroke="#1e3318" stroke-opacity="0.68" stroke-width="1.3"/>
<line x1="329.3" y1="230" x2="329.3" y2="234.5" stroke="#1e3318" stroke-opacity="0.68" stroke-width="1.3"/>
<line x1="331.3" y1="230" x2="331.3" y2="234.5" stroke="#1e3318" stroke-opacity="0.68" stroke-width="1.3"/>
<line x1="334.6" y1="230" x2="334.6" y2="234.5" stroke="#1e3318" stroke-opacity="0.68" stroke-width="1.3"/>
<line x1="340" y1="230" x2="340" y2="234.5" stroke="#1e3318" stroke-opacity="0.68" stroke-width="1.3"/>
<line x1="351" y1="230" x2="351" y2="234.5" stroke="#1e3318" stroke-opacity="0.68" stroke-width="1.3"/>
<line x1="352.4" y1="230" x2="352.4" y2="234.5" stroke="#1e3318" stroke-opacity="0.68" stroke-width="1.3"/>
<line x1="357.6" y1="230" x2="357.6" y2="234.5" stroke="#1e3318" stroke-opacity="0.68" stroke-width="1.3"/>
<line x1="363.4" y1="230" x2="363.4" y2="234.5" stroke="#1e3318" stroke-opacity="0.68" stroke-width="1.3"/>
<line x1="365.3" y1="230" x2="365.3" y2="234.5" stroke="#1e3318" stroke-opacity="0.68" stroke-width="1.3"/>
<line x1="368.9" y1="230" x2="368.9" y2="234.5" stroke="#1e3318" stroke-opacity="0.68" stroke-width="1.3"/>
<line x1="381.7" y1="230" x2="381.7" y2="234.5" stroke="#1e3318" stroke-opacity="0.68" stroke-width="1.3"/>
<line x1="383.5" y1="230" x2="383.5" y2="234.5" stroke="#1e3318" stroke-opacity="0.68" stroke-width="1.3"/>
<line x1="387.3" y1="230" x2="387.3" y2="234.5" stroke="#1e3318" stroke-opacity="0.68" stroke-width="1.3"/>
<line x1="394" y1="230" x2="394" y2="234.5" stroke="#1e3318" stroke-opacity="0.68" stroke-width="1.3"/>
<line x1="395.2" y1="230" x2="395.2" y2="234.5" stroke="#1e3318" stroke-opacity="0.68" stroke-width="1.3"/>
<line x1="406.7" y1="230" x2="406.7" y2="234.5" stroke="#1e3318" stroke-opacity="0.68" stroke-width="1.3"/>
<line x1="428.4" y1="230" x2="428.4" y2="234.5" stroke="#1e3318" stroke-opacity="0.68" stroke-width="1.3"/>
<line x1="115" y1="234.9" x2="115" y2="239.2" stroke="#fff" stroke-opacity="0.85" stroke-width="1.2"/>
<line x1="164.4" y1="234.9" x2="164.4" y2="239.2" stroke="#fff" stroke-opacity="0.85" stroke-width="1.2"/>
<line x1="190.4" y1="234.9" x2="190.4" y2="239.2" stroke="#fff" stroke-opacity="0.85" stroke-width="1.2"/>
<line x1="207.3" y1="234.9" x2="207.3" y2="239.2" stroke="#fff" stroke-opacity="0.85" stroke-width="1.2"/>
<line x1="224" y1="234.9" x2="224" y2="239.2" stroke="#fff" stroke-opacity="0.85" stroke-width="1.2"/>
<line x1="230.1" y1="234.9" x2="230.1" y2="239.2" stroke="#fff" stroke-opacity="0.85" stroke-width="1.2"/>
<line x1="250.2" y1="234.9" x2="250.2" y2="239.2" stroke="#fff" stroke-opacity="0.85" stroke-width="1.2"/>
<line x1="258.1" y1="234.9" x2="258.1" y2="239.2" stroke="#fff" stroke-opacity="0.85" stroke-width="1.2"/>
<line x1="260.1" y1="234.9" x2="260.1" y2="239.2" stroke="#fff" stroke-opacity="0.85" stroke-width="1.2"/>
<line x1="265.6" y1="234.9" x2="265.6" y2="239.2" stroke="#fff" stroke-opacity="0.85" stroke-width="1.2"/>
<line x1="284.5" y1="234.9" x2="284.5" y2="239.2" stroke="#fff" stroke-opacity="0.85" stroke-width="1.2"/>
<line x1="301.9" y1="234.9" x2="301.9" y2="239.2" stroke="#fff" stroke-opacity="0.85" stroke-width="1.2"/>
<line x1="323.6" y1="234.9" x2="323.6" y2="239.2" stroke="#fff" stroke-opacity="0.85" stroke-width="1.2"/>
<line x1="345.3" y1="234.9" x2="345.3" y2="239.2" stroke="#fff" stroke-opacity="0.85" stroke-width="1.2"/>
<line x1="385.5" y1="234.9" x2="385.5" y2="239.2" stroke="#fff" stroke-opacity="0.85" stroke-width="1.2"/>
<line x1="413.3" y1="234.9" x2="413.3" y2="239.2" stroke="#fff" stroke-opacity="0.85" stroke-width="1.2"/>
<line x1="289.8" y1="204.4" x2="289.8" y2="234.5" stroke="#111" stroke-width="1.2"/>
<line x1="265.6" y1="234.5" x2="265.6" y2="264.7" stroke="#111" stroke-width="1.2"/>
<rect x="436" y="213.7" width="7" height="6" fill="#b3d49e"/>
<text x="446.6" y="219.6" font-size="8.8" fill="#333" text-anchor="start" textLength="44.6" lengthAdjust="spacingAndGlyphs" >MR4 (n=82)</text>
<rect x="436" y="249.2" width="7" height="6" fill="#67a63d"/>
<text x="446.6" y="255.1" font-size="8.8" fill="#333" text-anchor="start" textLength="44.6" lengthAdjust="spacingAndGlyphs" >MR3 (n=18)</text>
<line x1="45.6" y1="215.5" x2="45.6" y2="267.1" stroke="#111" stroke-width="1.3"/>
<line x1="42.3" y1="234.8" x2="45.6" y2="234.8" stroke="#111" stroke-width="1.1"/>
<text x="38.8" y="238.1" font-size="9.8" fill="#333" text-anchor="end" >0</text>
<text transform="translate(19.6,255.5) rotate(-90)" font-size="11.4" fill="#333" text-anchor="start" textLength="28.8" lengthAdjust="spacingAndGlyphs" >Density</text>
<line x1="44.95" y1="267.1" x2="504.5" y2="267.1" stroke="#111" stroke-width="1.3"/>
<line x1="50.3" y1="267.1" x2="50.3" y2="270.5" stroke="#111" stroke-width="1.1"/>
<text x="50.0" y="283.8" font-size="10.9" fill="#333" text-anchor="middle" >−0.10</text>
<line x1="163.0" y1="267.1" x2="163.0" y2="270.5" stroke="#111" stroke-width="1.1"/>
<text x="162.7" y="283.8" font-size="10.9" fill="#333" text-anchor="middle" >−0.05</text>
<line x1="275.6" y1="267.1" x2="275.6" y2="270.5" stroke="#111" stroke-width="1.1"/>
<text x="275.6" y="283.8" font-size="10.9" fill="#333" text-anchor="middle" >0.00</text>
<line x1="388.2" y1="267.1" x2="388.2" y2="270.5" stroke="#111" stroke-width="1.1"/>
<text x="388.2" y="283.8" font-size="10.9" fill="#333" text-anchor="middle" >0.05</text>
<line x1="500.9" y1="267.1" x2="500.9" y2="270.5" stroke="#111" stroke-width="1.1"/>
<text x="500.9" y="283.8" font-size="10.9" fill="#333" text-anchor="middle" >0.10</text>
<text x="216" y="298.9" font-size="11.6" fill="#333" text-anchor="start" textLength="118.5" lengthAdjust="spacingAndGlyphs" >Slope [log increase per month]</text>
<line x1="275.6" y1="26.9" x2="275.6" y2="268" stroke="#222" stroke-width="1.6" stroke-dasharray="4.85 4.95"/>
<text x="8.1" y="323.3" font-size="13.0" fill="#111" text-anchor="start" font-weight="bold" stroke="#111" stroke-width="0.35">B</text>
<line x1="45.4" y1="330.5" x2="45.4" y2="476.1" stroke="#111" stroke-width="1.3"/>
<line x1="42.3" y1="336.5" x2="45.4" y2="336.5" stroke="#111" stroke-width="1.1"/>
<text x="38.6" y="340.0" font-size="9.9" fill="#333" text-anchor="end" textLength="15.2" lengthAdjust="spacingAndGlyphs" >100</text>
<line x1="42.3" y1="369.5" x2="45.4" y2="369.5" stroke="#111" stroke-width="1.1"/>
<text x="38.6" y="373.0" font-size="9.9" fill="#333" text-anchor="end" textLength="10.2" lengthAdjust="spacingAndGlyphs" >75</text>
<line x1="42.3" y1="402.6" x2="45.4" y2="402.6" stroke="#111" stroke-width="1.1"/>
<text x="38.6" y="406.1" font-size="9.9" fill="#333" text-anchor="end" textLength="10.2" lengthAdjust="spacingAndGlyphs" >50</text>
<line x1="42.3" y1="435.6" x2="45.4" y2="435.6" stroke="#111" stroke-width="1.1"/>
<text x="38.6" y="439.1" font-size="9.9" fill="#333" text-anchor="end" textLength="10.2" lengthAdjust="spacingAndGlyphs" >25</text>
<line x1="42.3" y1="468.6" x2="45.4" y2="468.6" stroke="#111" stroke-width="1.1"/>
<text x="38.6" y="472.1" font-size="9.9" fill="#333" text-anchor="end" textLength="5.2" lengthAdjust="spacingAndGlyphs" >0</text>
<text transform="translate(18.2,457.3) rotate(-90)" font-size="11" fill="#333" text-anchor="start" textLength="109" lengthAdjust="spacingAndGlyphs" >Recurrence-free survival [%]</text>
<line x1="44.75" y1="475.6" x2="512" y2="475.6" stroke="#111" stroke-width="1.3"/>
<line x1="66.8" y1="475.6" x2="66.8" y2="478.9" stroke="#111" stroke-width="1.1"/>
<text x="66.8" y="490.1" font-size="10.2" fill="#333" text-anchor="middle" >0</text>
<line x1="184.6" y1="475.6" x2="184.6" y2="478.9" stroke="#111" stroke-width="1.1"/>
<text x="184.6" y="490.1" font-size="10.2" fill="#333" text-anchor="middle" >10</text>
<line x1="302.3" y1="475.6" x2="302.3" y2="478.9" stroke="#111" stroke-width="1.1"/>
<text x="302.3" y="490.1" font-size="10.2" fill="#333" text-anchor="middle" >20</text>
<line x1="420.1" y1="475.6" x2="420.1" y2="478.9" stroke="#111" stroke-width="1.1"/>
<text x="420.1" y="490.1" font-size="10.2" fill="#333" text-anchor="middle" >30</text>
<text x="251.3" y="505.1" font-size="11.6" fill="#333" text-anchor="start" textLength="55.2" lengthAdjust="spacingAndGlyphs" >Time [months]</text>
<line x1="222.6" y1="332.7" x2="222.6" y2="475" stroke="#222" stroke-width="1.5" stroke-dasharray="4.5 5.3"/>
<path d="M88.80,336.90 H88.80 V347.40 H95.60 V358.40 H104.60 V369.50 H115.40 V380.50 H117.10 V391.50 H137.50 V402.50 H161.70 V413.50 H161.70 V424.50 H168.50 V435.50 H186.70 V446.60 H216.50 V457.60 H221.60 V468.50" fill="none" stroke="#d98a80" stroke-width="1.25"/>
<path d="M216.20,336.90 H216.20 V344.00 H223.10 V350.90 H228.60 V358.40 H232.00 V365.80 H237.60 V373.00 H238.10 V380.40 H238.50 V388.00 H241.10 V395.00 H241.10 V402.30 H242.20 V410.00 H242.70 V417.50 H246.00 V424.60 H246.90 V431.70 H251.30 V439.00 H254.90 V446.10 H255.30 V454.00 H259.50 V461.40 H490.8" fill="none" stroke="#b10a3c" stroke-width="1.7"/>
<path d="M67.00,336.90 H222.70 V337.50 H238.10 V338.50 H238.80 V339.50 H239.60 V340.30 H242.00 V341.20 H243.00 V342.20 H247.00 V343.20 H248.50 V344.20 H250.50 V345.00 H252.00 V346.00 H254.30 V347.00 H254.80 V348.00 H255.30 V349.00 H255.80 V350.00 H256.30 V351.00 H257.00 V352.00 H257.20 V353.00 H257.40 V354.00 H257.60 V355.30 H259.50 V356.30 H260.50 V357.30 H262.00 V358.30 H262.50 V359.30 H263.00 V360.20 H263.50 V361.00 H274.00 V362.00 H278.00 V363.00 H284.60 V364.00 H310.00 V364.90 H322.70 V366.00 H332.00 V367.00 H357.30 V368.20 H362.00 V369.00 H388.00 V370.00 H400.00 V370.40 H444.20 V371.20 H464.30 V372.00 H484.60 V373.20 H486.00 V374.00 H487.50 V374.70 H492" fill="none" stroke="#62a73d" stroke-width="1.5"/>
<line x1="183.5" y1="334.9" x2="183.5" y2="338.9" stroke="#62a73d" stroke-width="1.1"/><line x1="181.9" y1="336.9" x2="185.1" y2="336.9" stroke="#62a73d" stroke-width="1.5"/>
<line x1="214.2" y1="334.9" x2="214.2" y2="338.9" stroke="#62a73d" stroke-width="1.1"/><line x1="212.6" y1="336.9" x2="215.79999999999998" y2="336.9" stroke="#62a73d" stroke-width="1.5"/>
<line x1="219.9" y1="334.9" x2="219.9" y2="338.9" stroke="#62a73d" stroke-width="1.1"/><line x1="218.3" y1="336.9" x2="221.5" y2="336.9" stroke="#62a73d" stroke-width="1.5"/>
<line x1="261" y1="356.3" x2="261" y2="360.3" stroke="#62a73d" stroke-width="1.1"/><line x1="259.4" y1="358.3" x2="262.6" y2="358.3" stroke="#62a73d" stroke-width="1.5"/>
<line x1="403.4" y1="368.4" x2="403.4" y2="372.4" stroke="#62a73d" stroke-width="1.1"/><line x1="401.79999999999995" y1="370.4" x2="405.0" y2="370.4" stroke="#62a73d" stroke-width="1.5"/>
<line x1="465.2" y1="370.0" x2="465.2" y2="374.0" stroke="#62a73d" stroke-width="1.1"/><line x1="463.59999999999997" y1="372" x2="466.8" y2="372" stroke="#62a73d" stroke-width="1.5"/>
<line x1="476.2" y1="371.2" x2="476.2" y2="375.2" stroke="#62a73d" stroke-width="1.1"/><line x1="474.59999999999997" y1="373.2" x2="477.8" y2="373.2" stroke="#62a73d" stroke-width="1.5"/>
<line x1="477" y1="371.2" x2="477" y2="375.2" stroke="#62a73d" stroke-width="1.1"/><line x1="475.4" y1="373.2" x2="478.6" y2="373.2" stroke="#62a73d" stroke-width="1.5"/>
<line x1="479.7" y1="371.2" x2="479.7" y2="375.2" stroke="#62a73d" stroke-width="1.1"/><line x1="478.09999999999997" y1="373.2" x2="481.3" y2="373.2" stroke="#62a73d" stroke-width="1.5"/>
<line x1="482.5" y1="371.2" x2="482.5" y2="375.2" stroke="#62a73d" stroke-width="1.1"/><line x1="480.9" y1="373.2" x2="484.1" y2="373.2" stroke="#62a73d" stroke-width="1.5"/>
<line x1="484" y1="371.2" x2="484" y2="375.2" stroke="#62a73d" stroke-width="1.1"/><line x1="482.4" y1="373.2" x2="485.6" y2="373.2" stroke="#62a73d" stroke-width="1.5"/>
<line x1="487" y1="372.7" x2="487" y2="376.7" stroke="#62a73d" stroke-width="1.1"/><line x1="485.4" y1="374.7" x2="488.6" y2="374.7" stroke="#62a73d" stroke-width="1.5"/>
<line x1="489.2" y1="372.7" x2="489.2" y2="376.7" stroke="#62a73d" stroke-width="1.1"/><line x1="487.59999999999997" y1="374.7" x2="490.8" y2="374.7" stroke="#62a73d" stroke-width="1.5"/>
<line x1="490.5" y1="372.7" x2="490.5" y2="376.7" stroke="#62a73d" stroke-width="1.1"/><line x1="488.9" y1="374.7" x2="492.1" y2="374.7" stroke="#62a73d" stroke-width="1.5"/>
<line x1="126.9" y1="334.9" x2="126.9" y2="338.9" stroke="#b10a3c" stroke-width="1.4"/><line x1="124.9" y1="336.9" x2="128.9" y2="336.9" stroke="#b10a3c" stroke-width="1.5"/>
<line x1="132.1" y1="334.9" x2="132.1" y2="338.9" stroke="#b10a3c" stroke-width="1.4"/><line x1="130.1" y1="336.9" x2="134.1" y2="336.9" stroke="#b10a3c" stroke-width="1.5"/>
<line x1="203.1" y1="334.9" x2="203.1" y2="338.9" stroke="#b10a3c" stroke-width="1.4"/><line x1="201.1" y1="336.9" x2="205.1" y2="336.9" stroke="#b10a3c" stroke-width="1.5"/>
<line x1="490.8" y1="459.4" x2="490.8" y2="463.4" stroke="#b10a3c" stroke-width="1.4"/><line x1="488.8" y1="461.4" x2="492.8" y2="461.4" stroke="#b10a3c" stroke-width="1.5"/>
<text x="454.2" y="347.3" font-size="9.6" fill="#333" text-anchor="start" textLength="30.4" lengthAdjust="spacingAndGlyphs" >TKI stop</text>
<text x="68.7" y="466.8" font-size="9.6" fill="#333" text-anchor="start" textLength="37.1" lengthAdjust="spacingAndGlyphs" >half dose</text>
<line x1="357.2" y1="400.6" x2="364.2" y2="400.6" stroke="#d98a80" stroke-width="1.2"/>
<line x1="360.7" y1="399.20000000000005" x2="360.7" y2="402.0" stroke="#d98a80" stroke-width="1"/>
<text x="367.8" y="403.4" font-size="9.4" fill="#333" text-anchor="start" textLength="82.1" lengthAdjust="spacingAndGlyphs" >high slope (half dose)</text>
<line x1="357.2" y1="413.1" x2="364.2" y2="413.1" stroke="#b10a3c" stroke-width="1.6"/>
<line x1="360.7" y1="411.70000000000005" x2="360.7" y2="414.5" stroke="#b10a3c" stroke-width="1"/>
<text x="367.8" y="415.9" font-size="9.4" fill="#333" text-anchor="start" textLength="79.1" lengthAdjust="spacingAndGlyphs" >high slope (TKI stop)</text>
<line x1="357.2" y1="425.6" x2="364.2" y2="425.6" stroke="#62a73d" stroke-width="1.2"/>
<line x1="360.7" y1="424.20000000000005" x2="360.7" y2="427.0" stroke="#62a73d" stroke-width="1"/>
<text x="367.8" y="428.4" font-size="9.4" fill="#333" text-anchor="start" textLength="72.3" lengthAdjust="spacingAndGlyphs" >negative/low slope</text>
<text x="46" y="518.5" font-size="8.6" fill="#333" text-anchor="start" textLength="54.3" lengthAdjust="spacingAndGlyphs" >number at risk</text>
<line x1="28" y1="528.4" x2="42" y2="528.4" stroke="#d98a80" stroke-width="1.1"/>
<text x="66.8" y="531.5" font-size="9.2" fill="#d98a80" text-anchor="middle" textLength="9.2" lengthAdjust="spacingAndGlyphs" >12</text>
<text x="184.6" y="531.5" font-size="9.2" fill="#d98a80" text-anchor="middle" textLength="4.6" lengthAdjust="spacingAndGlyphs" >3</text>
<text x="302.3" y="531.5" font-size="9.2" fill="#d98a80" text-anchor="middle" textLength="4.6" lengthAdjust="spacingAndGlyphs" >0</text>
<text x="420.1" y="531.5" font-size="9.2" fill="#d98a80" text-anchor="middle" textLength="4.6" lengthAdjust="spacingAndGlyphs" >0</text>
<line x1="28" y1="541.2" x2="42" y2="541.2" stroke="#b10a3c" stroke-width="1.8"/>
<text x="66.8" y="544.1" font-size="9.2" fill="#b10a3c" text-anchor="middle" textLength="9.2" lengthAdjust="spacingAndGlyphs" >21</text>
<text x="184.6" y="544.1" font-size="9.2" fill="#b10a3c" text-anchor="middle" textLength="9.2" lengthAdjust="spacingAndGlyphs" >19</text>
<text x="302.3" y="544.1" font-size="9.2" fill="#b10a3c" text-anchor="middle" textLength="4.6" lengthAdjust="spacingAndGlyphs" >1</text>
<text x="420.1" y="544.1" font-size="9.2" fill="#b10a3c" text-anchor="middle" textLength="4.6" lengthAdjust="spacingAndGlyphs" >1</text>
<line x1="28" y1="553.9" x2="42" y2="553.9" stroke="#62a73d" stroke-width="1.5"/>
<text x="66.8" y="556.8000000000001" font-size="9.2" fill="#62a73d" text-anchor="middle" textLength="13.8" lengthAdjust="spacingAndGlyphs" >138</text>
<text x="184.6" y="556.8000000000001" font-size="9.2" fill="#62a73d" text-anchor="middle" textLength="13.8" lengthAdjust="spacingAndGlyphs" >137</text>
<text x="302.3" y="556.8000000000001" font-size="9.2" fill="#62a73d" text-anchor="middle" textLength="13.8" lengthAdjust="spacingAndGlyphs" >105</text>
<text x="420.1" y="556.8000000000001" font-size="9.2" fill="#62a73d" text-anchor="middle" textLength="9.2" lengthAdjust="spacingAndGlyphs" >98</text>
<rect x="0" y="0" width="1.1" height="565" fill="#000"/><rect x="0" y="0" width="520" height="1.1" fill="#000"/><rect x="518.7" y="0" width="1.3" height="565" fill="#000"/><rect x="0" y="563.7" width="520" height="1.3" fill="#000"/>
</svg></div></body></html>
